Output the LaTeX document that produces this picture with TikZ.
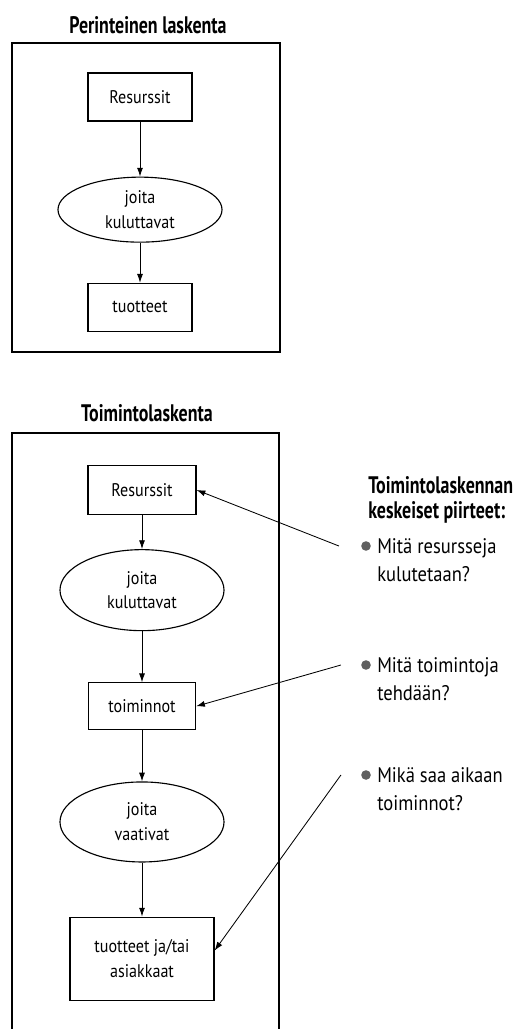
\documentclass[tikz,border=0pt]{standalone}
\usepackage{fontspec}
\setmainfont{PT Sans}[FakeStretch=0.88]
\newfontfamily\headfont{PT Sans}[FakeStretch=0.75]
\usetikzlibrary{positioning}
\usetikzlibrary{shapes.geometric}
\usetikzlibrary{arrows.meta}

\begin{document}
\begin{tikzpicture}[
        x=0.025cm, y=-0.025cm,
        >={Latex[length=2.2mm,width=1.5mm]},
        boxnode/.style={rectangle, draw, line width=0.8pt, inner sep=0pt, minimum width=2.6cm, minimum height=1.2cm, align=center, font=\fontsize{13}{17.7}\selectfont},
        ovalnode/.style={ellipse, draw, line width=0.8pt, inner sep=0pt, minimum width=4.1cm, minimum height=2cm, align=center, font=\fontsize{13}{17.7}\selectfont},
        titlenode/.style={inner sep=0pt, align=left, font=\headfont\bfseries\fontsize{17}{17.7}\selectfont},
        itemnode/.style={anchor=west, inner sep=0pt, align=left, font=\fontsize{15}{20}\selectfont},
        dotnode/.style={circle, fill=gray!75!black, inner sep=0pt, minimum size=2.4mm},
        framebox/.style={line width=0.9pt},
        link/.style={->, line width=0.6pt},
    ]
    \useasboundingbox (0,0) rectangle (527,1029);

    % Nodes
    \node[titlenode]   (title_1)  at (148,25)                 {Perinteinen laskenta};
    \node[boxnode]     (res_1)    at (140,97)                 {Resurssit};
    \node[ovalnode, minimum height=1.625cm] (oval_1) [below=1.375cm of res_1] {joita\\kuluttavat};
    \node[boxnode]     (out_1)    [below=1cm of oval_1]       {tuotteet};

    \node[titlenode]   (title_2)  at (147,413)                {Toimintolaskenta};
    \node[boxnode, minimum width=2.7cm, minimum height=1.225cm] (res_2) at (142,490) {Resurssit};
    \node[ovalnode, minimum height=2.025cm] (oval_2) [below=0.85cm of res_2] {joita\\kuluttavat};
    \node[boxnode, minimum width=2.675cm, minimum height=1.175cm] (act_2) [below=1.275cm of oval_2] {toiminnot};
    \node[ovalnode]    (oval_3)   [below=1.275cm of act_2]    {joita\\vaativat};
    \node[boxnode, minimum width=3.6cm, minimum height=2.075cm] (out_2) [below=1.35cm of oval_3] {tuotteet ja/tai\\asiakkaat};

    \node[titlenode, anchor=west] (feat_title) at (368,500) {Toimintolaskennan\\keskeiset piirteet:};
    \node[dotnode]     (dot_1)    at (366,546)                {};
    \node[itemnode]    (item_1)   at (377,560)                {Mitä resursseja\\kulutetaan?};
    \node[dotnode]     (dot_2)    at (366,665)                {};
    \node[itemnode]    (item_2)   at (377,679)                {Mitä toimintoja\\tehdään?};
    \node[dotnode]     (dot_3)    at (366,775)                {};
    \node[itemnode]    (item_3)   at (377,789)                {Mikä saa aikaan\\toiminnot?};

    \coordinate[left=0.55cm of dot_1] (from_1);
    \coordinate[left=0.5cm of dot_2]  (from_2);
    \coordinate[left=0.5cm of dot_3]  (from_3);

    % Frames
    \draw[framebox] (12,43) rectangle (280,352);
    \draw[framebox] (12,1029) |- (279,433) -- (279,1029);

    %Lines
    \draw[link] (res_1.south) -- (oval_1.north);
    \draw[link] (oval_1.south) -- (out_1.north);

    \draw[link] (res_2.south) -- (oval_2.north);
    \draw[link] (oval_2.south) -- (act_2.north);
    \draw[link] (act_2.south) -- (oval_3.north);
    \draw[link] (oval_3.south) -- (out_2.north);

    \draw[link] (from_1) -- (res_2.east);
    \draw[link] (from_2) -- (act_2.east);
    \draw[link] (from_3) -- ([yshift=0.2cm]out_2.east);
\end{tikzpicture}
\end{document}
